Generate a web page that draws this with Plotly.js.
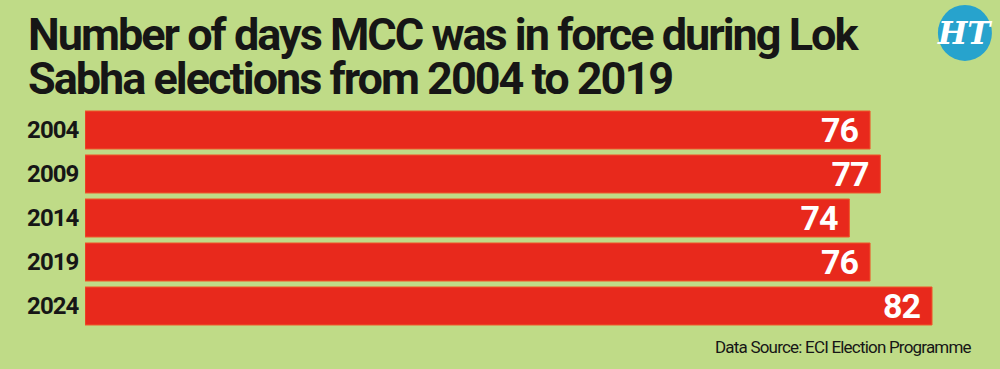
<!DOCTYPE html>
<html>
<head>
<meta charset="utf-8">
<script src="https://cdn.plot.ly/plotly-3.0.1.min.js"></script>
<style>
  html, body { margin: 0; padding: 0; background: #bfdb87; }
  #chart { width: 1000px; height: 369px; }
  /* tighter tracking to get a condensed headline look */
  #chart g.annotation[data-index="0"] text,
  #chart g.annotation[data-index="1"] text { letter-spacing: -2px; }
  #chart g.annotation[data-index="3"] text { letter-spacing: -0.8px; }
  #chart .ytick text { letter-spacing: -1px; }
  #chart .bartext { letter-spacing: -1px; }
</style>
</head>
<body>
<div id="chart"></div>
<script>
// Lok Sabha election years and days the Model Code of Conduct was in force
const years = ['2004', '2009', '2014', '2019', '2024'];
const mccDays = [76, 77, 74, 76, 82];

const titleLines = [
  'Number of days MCC was in force during Lok',
  'Sabha elections from 2004 to 2019'
];
const sourceNote = 'Data Source: ECI Election Programme';

const BG = '#bfdb87';
const BAR = '#e8291c';
const INK = '#161616';
const FONT = 'Roboto, "Liberation Sans", sans-serif';

const trace = {
  type: 'bar',
  orientation: 'h',
  x: mccDays,
  y: years,
  marker: { color: BAR, line: { color: '#ef5a2a', width: 1 } },
  // trailing no-break space keeps the value clear of the bar end
  text: mccDays.map(v => String(v) + '\u00a0'),
  textposition: 'inside',
  insidetextanchor: 'end',
  textangle: 0,
  constraintext: 'none',
  textfont: { family: FONT, size: 34, color: '#ffffff', weight: 700 },
  hoverinfo: 'skip'
};

const layout = {
  width: 1000,
  height: 369,
  paper_bgcolor: BG,
  plot_bgcolor: BG,
  margin: { l: 85, r: 6, t: 108, b: 41 },
  bargap: 0.136,
  showlegend: false,
  xaxis: {
    range: [0, 88],
    visible: false,
    fixedrange: true
  },
  yaxis: {
    type: 'category',
    autorange: 'reversed',
    showgrid: false,
    zeroline: false,
    showline: false,
    ticks: 'outside',
    ticklen: 1,
    tickcolor: 'rgba(0,0,0,0)',
    tickfont: { family: FONT, size: 24, color: INK, weight: 700 },
    fixedrange: true
  },
  shapes: [
    {
      type: 'circle',
      xref: 'paper', yref: 'paper',
      xsizemode: 'pixel', ysizemode: 'pixel',
      xanchor: 0.968, yanchor: 1.341,
      x0: -27, x1: 27, y0: -28, y1: 28,
      fillcolor: '#27a3cd',
      line: { width: 0 }
    }
  ],
  annotations: [
    {
      text: titleLines[0],
      xref: 'paper', yref: 'paper',
      x: -59 / 909, y: 1.0 + (108 - 6) / 220,
      xanchor: 'left', yanchor: 'top', align: 'left',
      showarrow: false,
      font: { family: FONT, size: 45, color: INK, weight: 700 }
    },
    {
      text: titleLines[1],
      xref: 'paper', yref: 'paper',
      x: -59 / 909, y: 1.0 + (108 - 50) / 220,
      xanchor: 'left', yanchor: 'top', align: 'left',
      showarrow: false,
      font: { family: FONT, size: 45, color: INK, weight: 700 }
    },
    {
      text: '<i>HT</i>',
      xref: 'paper', yref: 'paper',
      x: 0.968, y: 1.341,
      xanchor: 'center', yanchor: 'middle',
      showarrow: false,
      font: { family: '"DejaVu Serif", serif', size: 31, color: '#ffffff', weight: 700 }
    },
    {
      text: sourceNote,
      xref: 'paper', yref: 'paper',
      x: (973 - 85) / 909, y: -(347 - 328) / 220,
      xanchor: 'right', yanchor: 'middle', align: 'right',
      showarrow: false,
      font: { family: FONT, size: 17, color: INK }
    }
  ]
};

Plotly.newPlot('chart', [trace], layout, { displayModeBar: false, staticPlot: true });
</script>
</body>
</html>
